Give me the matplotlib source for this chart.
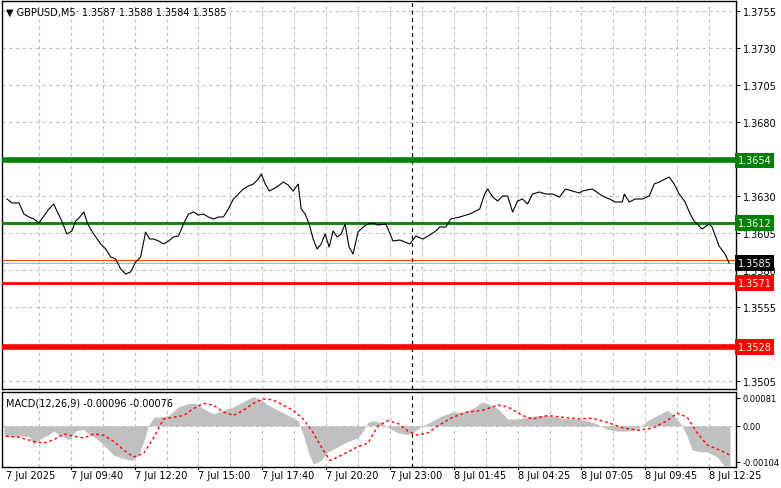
import matplotlib.pyplot as plt
import numpy as np

# price path: (bar index, price level in chart rows)
price_path = [
    (1.5, 200), (4, 204), (7.5, 204), (10, 215), (12.5, 218), (15, 220), (17.5, 224), (20, 217), (22.5, 210),
    (25, 205), (26.5, 212), (29, 222), (31.5, 235), (34, 232), (36, 222), (38, 218), (40, 213), (42, 225),
    (44, 232), (46, 238), (48.5, 245), (51, 250), (53.5, 258), (56, 260), (58.5, 270), (61, 275), (63.5, 273),
    (66, 263), (68.5, 258), (71, 233), (73, 240), (75, 240), (77.5, 242), (80, 245), (82.5, 242), (85, 238),
    (87.5, 237), (90, 225), (92.5, 215), (95, 213), (97.5, 216), (100, 215), (102.5, 218), (105, 220),
    (107.5, 218), (110, 218), (112.5, 210), (115, 200), (117.5, 195), (120, 190), (122.5, 187), (125, 185),
    (127.5, 180), (129, 175), (131, 185), (133, 192), (135, 190), (137.5, 187), (140, 183), (142.5, 186),
    (145, 192), (147.5, 185), (149, 210), (151, 215), (153, 225), (155, 240), (157, 250), (159, 245),
    (161, 235), (163, 248), (165, 232), (167, 238), (169, 235), (171, 225), (173, 248), (175, 255), (177.5, 233),
    (180, 228), (182.5, 225), (185, 224), (187.5, 226), (191.5, 225), (195, 242), (198.5, 241), (203.5, 245),
    (206.5, 237), (210, 240), (213.5, 236), (216.5, 232), (218.5, 228), (221.5, 228), (224, 220), (228.5, 218),
    (233.5, 215), (238.5, 210), (241, 195), (242.5, 190), (245, 198), (247.5, 202), (250, 197), (252.5, 197),
    (255, 213), (257.5, 202), (260, 200), (262.5, 205), (265, 195), (268.5, 193), (271.5, 195), (275, 195),
    (278.5, 198), (281.5, 190), (285, 192), (288.5, 194), (290, 192), (295, 190), (300, 197), (303.5, 200),
    (306.5, 203), (310, 203), (311, 195), (313.5, 203), (316.5, 200), (320, 200), (323.5, 197), (326, 185),
    (328.5, 183), (331.5, 180), (333.5, 178), (336, 185), (338.5, 195), (341.5, 203), (344, 215), (346, 222),
    (350, 230), (353.5, 225), (355, 228), (358.5, 247), (361.5, 255), (363.5, 264),
]
price_x = [b for b, _ in price_path]
prices = [1.3755 - (r - 12) / 14800 for _, r in price_path]

# MACD histogram (bar index, value in 1e-5)
hist_path = [
    (0, -30), (7.5, -30), (12.5, -30), (15, -55), (17.5, -40), (22.5, -25), (25, -15), (27.5, -25),
    (32.5, -40), (36, -15), (40, -10), (42.5, -25), (46, -35), (50, -55), (55, -85), (60, -95), (64, -100),
    (67.5, -85), (70, -45), (72.5, 0), (75, 25), (77.5, 25), (82.5, 30), (87.5, 55), (92.5, 65), (96, 65),
    (100, 50), (105, 35), (110, 45), (115, 55), (120, 70), (125, 85), (129, 75), (132.5, 60), (137.5, 45),
    (142.5, 30), (147.5, 15), (150, -25), (152.5, -75), (155, -110), (159, -100), (162.5, -75), (167.5, -60),
    (172.5, -45), (177.5, -35), (180, -15), (182.5, 10), (185, 15), (189, 10), (192.5, -5), (197.5, -20),
    (202.5, -25), (206, -15), (210, 0), (215, 15), (220, 30), (225, 40), (230, 40), (235, 50), (240, 70),
    (244, 60), (247.5, 50), (252.5, 20), (257.5, 20), (262.5, 25), (267.5, 30), (272.5, 30), (277.5, 25),
    (282.5, 20), (287.5, 20), (292.5, 15), (297.5, 5), (302.5, -10), (307.5, -15), (312.5, -15), (317.5, -10),
    (322.5, 15), (327.5, 30), (332.5, 45), (336, 30), (340, 0), (342.5, -30), (345, -70), (349, -75),
    (352.5, -75), (357.5, -90), (361, -115), (364, -115),
]
# MACD signal line (bar index, value in 1e-5)
signal_path = [
    (1, -30), (7.5, -33), (15, -45), (20, -50), (25, -40), (30, -23), (35, -30), (40, -35), (45, -23),
    (50, -27), (55, -45), (60, -70), (65, -90), (70, -80), (75, -35), (80, 20), (85, 25), (90, 30), (95, 50),
    (100, 65), (105, 60), (110, 40), (115, 30), (120, 45), (125, 65), (130, 78), (135, 75), (140, 60),
    (145, 45), (150, 20), (155, -20), (160, -70), (163.5, -100), (167.5, -90), (172.5, -75), (177.5, -60),
    (182.5, -50), (187.5, 0), (192.5, 15), (197.5, 7), (202.5, -15), (207.5, -27), (212.5, -20), (217.5, 0),
    (225, 25), (232.5, 40), (240, 45), (247.5, 60), (252.5, 55), (260, 30), (265, 20), (272.5, 30), (280, 25),
    (287.5, 20), (295, 22), (302.5, 10), (310, -5), (317.5, -13), (325, -7), (332.5, 15), (337.5, 37),
    (342.5, 25), (347.5, -20), (352.5, -55), (360, -73), (364, -85),
]
hist_x = [b for b, _ in hist_path]
hist = [v * 1e-5 for _, v in hist_path]
sig_x = [b for b, _ in signal_path]
signal = [v * 1e-5 for _, v in signal_path]

price_ticks = [1.3755, 1.3730, 1.3705, 1.3680, 1.3655, 1.3630, 1.3605, 1.3580, 1.3555, 1.3530, 1.3505]
hidden_ticks = [1.3655, 1.3530]
time_labels = ['7 Jul 2025', '7 Jul 09:40', '7 Jul 12:20', '7 Jul 15:00', '7 Jul 17:40', '7 Jul 20:20',
               '7 Jul 23:00', '8 Jul 01:45', '8 Jul 04:25', '8 Jul 07:05', '8 Jul 09:45', '8 Jul 12:25']
levels = [(1.3654, '#008000', 4), (1.3612, '#008000', 2), (1.3571, '#ff0000', 2), (1.3528, '#ff0000', 4)]

W, H = 781, 489
fig = plt.figure(figsize=(W / 100, H / 100), dpi=100)
plt.rcParams['font.family'] = ['DejaVu Sans']
x0, x1 = 2 / W, 736 / W
ax = fig.add_axes([x0, 1 - 390 / H, x1 - x0, 388 / H])
axm = fig.add_axes([x0, 1 - 468 / H, x1 - x0, 75 / H])
ytop = 1.3755 + 10 / 14800
ybot = ytop - 388 / 14800
grid_x = np.arange(17.5, 367, 16)

for a in (ax, axm):
    a.set_xlim(-1, 367)
    for s in a.spines.values():
        s.set_color('black')
        s.set_linewidth(1)
    a.tick_params(left=False, labelleft=False, bottom=False, labelbottom=False,
                  right=True, labelright=True, direction='out', length=3, pad=2, labelsize=7)
    for gx in grid_x:
        a.axvline(gx, color='#c0c0c0', ls=(0, (3, 3)), lw=0.8, zorder=0)
    a.axvline(204.5, color='black', ls=(0, (3, 3)), lw=0.9, zorder=1)

ax.set_ylim(ybot, ytop)
ax.set_yticks(price_ticks)
ax.set_yticklabels(['' if t in hidden_ticks else f'{t:.4f}' for t in price_ticks])
for t in price_ticks:
    ax.axhline(t, color='#c0c0c0', ls=(0, (3, 3)), lw=0.8, zorder=0)

for lv, col, lw in levels:
    ax.axhline(lv, color=col, lw=lw, zorder=3)
    ax.text(1.002, lv, f'{lv:.4f}', transform=ax.get_yaxis_transform(), color='white', fontsize=7,
            va='center', ha='left', bbox=dict(boxstyle='square,pad=0.3', fc=col, ec='none'), zorder=5, clip_on=False)
ax.axhline(1.3587, color='#ff4500', lw=0.8, zorder=2)
ax.axhline(1.3585, color='#b0b0b0', lw=0.8, zorder=2)
ax.text(1.002, 1.3585, '1.3585', transform=ax.get_yaxis_transform(), color='white', fontsize=7,
        va='center', ha='left', bbox=dict(boxstyle='square,pad=0.3', fc='black', ec='none'), zorder=6, clip_on=False)
ax.plot(price_x, prices, color='black', lw=0.8, zorder=4)
ax.text(0.005, 0.985, '\u25bc GBPUSD,M5  1.3587 1.3588 1.3584 1.3585', transform=ax.transAxes,
        fontsize=7, va='top', ha='left')

axm.set_ylim(-0.00119, 0.00098)
axm.set_yticks([0.00081, 0.0, -0.00104])
axm.set_yticklabels(['0.00081', '0.00', '-0.00104'], fontsize=6)
axm.axhline(0, color='#c0c0c0', ls=(0, (3, 3)), lw=0.8, zorder=0)
axm.fill_between(hist_x, hist, 0, color='#c0c0c0', lw=0, zorder=2)
axm.plot(sig_x, signal, color='red', ls=(0, (2, 2)), lw=1, zorder=3)
axm.text(0.005, 0.93, 'MACD(12,26,9) -0.00096 -0.00076', transform=axm.transAxes, fontsize=7, va='top', ha='left')

for i, lab in enumerate(time_labels):
    bx = 1 if i == 0 else 1.5 + 32 * i
    axm.text(bx, -0.00128, lab, fontsize=7, ha='left', va='top', clip_on=False)
    if i > 0:
        axm.plot([bx, bx], [-0.00119, -0.00125], color='black', lw=0.8, clip_on=False)

fig.savefig('out.png', dpi=100)
